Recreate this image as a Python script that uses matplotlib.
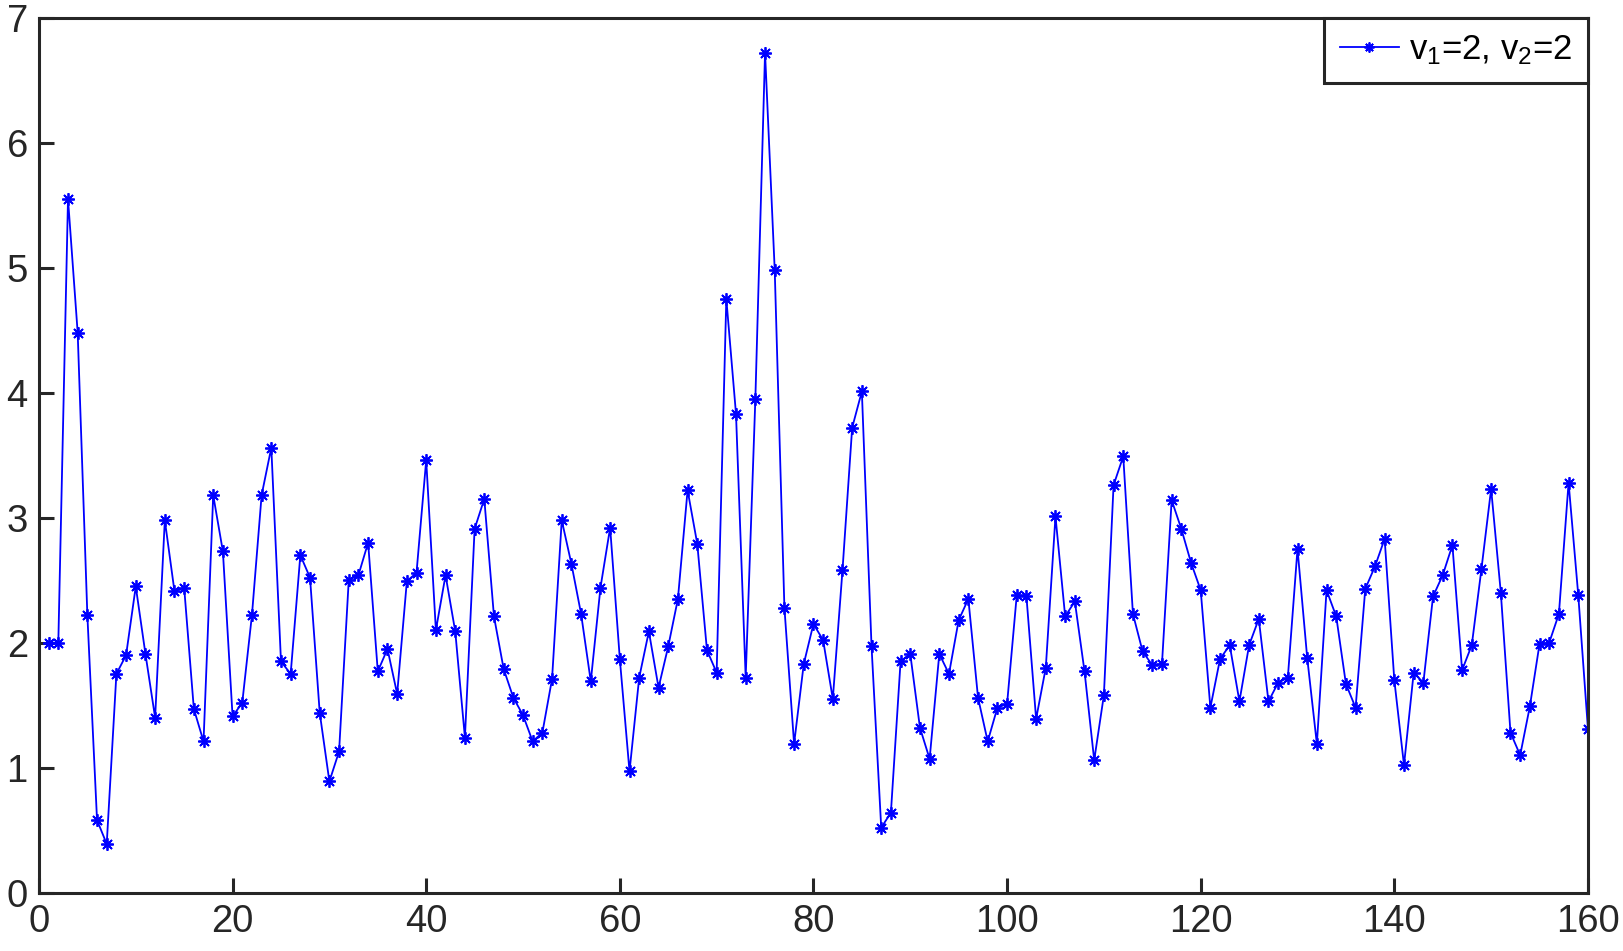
import matplotlib
matplotlib.use("Agg")
import matplotlib.pyplot as plt
import numpy as np

x = list(range(1, 161))
y = [
    2.00, 2.00, 5.55, 4.48, 2.22, 0.58, 0.39, 1.75, 1.90, 2.45,
    1.91, 1.40, 2.98, 2.41, 2.44, 1.47, 1.21, 3.18, 2.73, 1.41,
    1.52, 2.22, 3.18, 3.56, 1.85, 1.75, 2.70, 2.52, 1.44, 0.89,
    1.13, 2.50, 2.54, 2.80, 1.77, 1.95, 1.59, 2.49, 2.56, 3.46,
    2.10, 2.54, 2.09, 1.24, 2.91, 3.15, 2.21, 1.79, 1.56, 1.42,
    1.21, 1.28, 1.71, 2.98, 2.63, 2.23, 1.69, 2.44, 2.92, 1.87,
    0.97, 1.72, 2.09, 1.64, 1.97, 2.35, 3.22, 2.79, 1.94, 1.76,
    4.75, 3.83, 1.72, 3.95, 6.72, 4.98, 2.28, 1.19, 1.83, 2.15,
    2.02, 1.55, 2.58, 3.72, 4.01, 1.97, 0.52, 0.64, 1.85, 1.91,
    1.32, 1.07, 1.91, 1.75, 2.18, 2.35, 1.56, 1.21, 1.48, 1.51,
    2.38, 2.37, 1.39, 1.80, 3.01, 2.21, 2.33, 1.77, 1.06, 1.58,
    3.26, 3.49, 2.23, 1.93, 1.82, 1.83, 3.14, 2.91, 2.64, 2.42,
    1.48, 1.87, 1.98, 1.53, 1.98, 2.19, 1.53, 1.68, 1.72, 2.75,
    1.88, 1.19, 2.42, 2.21, 1.67, 1.48, 2.43, 2.61, 2.83, 1.70,
    1.02, 1.76, 1.68, 2.37, 2.54, 2.78, 1.78, 1.98, 2.59, 3.23,
    2.40, 1.28, 1.10, 1.49, 1.99, 2.00, 2.23, 3.28, 2.38, 1.31,
]
xticks = [0, 20, 40, 60, 80, 100, 120, 140, 160]
yticks = [0, 1, 2, 3, 4, 5, 6, 7]
label = r"v$_1$=2, v$_2$=2"

plt.rcParams['font.family'] = ['Liberation Sans', 'DejaVu Sans']
plt.rcParams['mathtext.fontset'] = 'custom'
plt.rcParams['mathtext.rm'] = 'Liberation Sans'
plt.rcParams['mathtext.it'] = 'Liberation Sans'

fig = plt.figure(figsize=(16.23, 9.51), dpi=100)
ax = fig.add_axes([0.0240, 0.0613, 0.9544, 0.9202])

ax.plot(x, y, color='#0000ff', linewidth=1.3, marker=(8, 2, 0),
        markersize=9, markeredgewidth=1.3, markeredgecolor='#0000ff',
        label=label)

ax.set_xlim(0, 160)
ax.set_ylim(0, 7)
ax.set_xticks(xticks)
ax.set_yticks(yticks)
ax.tick_params(direction='in', length=11, width=2.2, colors='#262626',
               labelsize=27.5, labelcolor='#262626', top=False, right=False,
               pad=8)
for s in ax.spines.values():
    s.set_linewidth(2.2)
    s.set_color('#262626')

leg = ax.legend(loc='upper right', fontsize=25, frameon=True, fancybox=False,
                borderaxespad=0, handlelength=1.7, handletextpad=0.3,
                borderpad=0.45, markerscale=0.8)
leg.get_frame().set_edgecolor('#262626')
leg.get_frame().set_linewidth(2.2)
leg.get_frame().set_alpha(1)

fig.savefig('out.png', dpi=100)
